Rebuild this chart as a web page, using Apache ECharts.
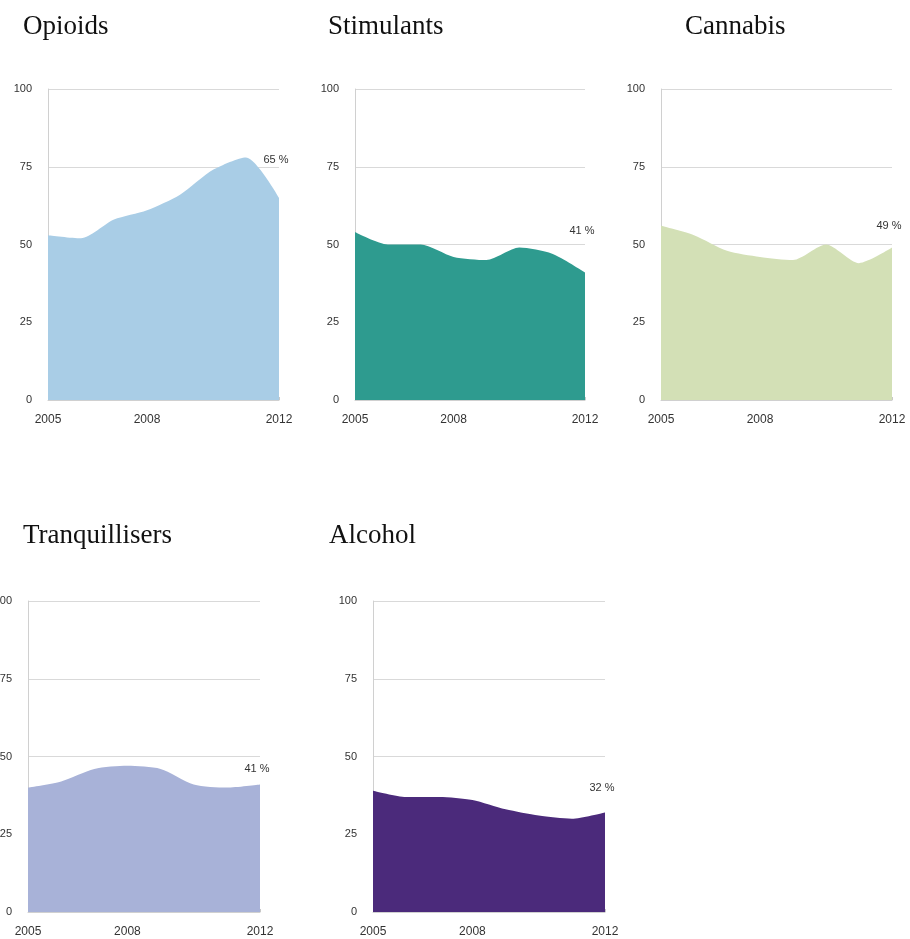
<!DOCTYPE html>
<html>
<head>
<meta charset="utf-8">
<script src="https://cdn.jsdelivr.net/npm/echarts@6/dist/echarts.min.js"></script>
<style>
html,body{margin:0;padding:0;background:#fff;}
#chart{width:910px;height:939px;}
</style>
</head>
<body>
<div id="chart"></div>
<script>
const years = ['2005','2006','2007','2008','2009','2010','2011','2012'];
const yTicks = [0, 25, 50, 75, 100];
const titles = ['Opioids','Stimulants','Cannabis','Tranquillisers','Alcohol'];
const opioids = [53, 52, 58, 61, 66, 74, 78, 65];
const stimulants = [54, 50, 50, 46, 45, 49, 47, 41];
const cannabis = [56, 53, 48, 46, 45, 50, 44, 49];
const tranquillisers = [40, 42, 46, 47, 46, 41, 40, 41];
const alcohol = [39, 37, 37, 36, 33, 31, 30, 32];
const seriesData = [opioids, stimulants, cannabis, tranquillisers, alcohol];

const colors = ['#a9cde6', '#2e9b8f', '#d3e0b6', '#a8b2d8', '#4b2a7b'];
const grids = [
  {left: 48, top: 89, width: 231, height: 311},
  {left: 355, top: 89, width: 230, height: 311},
  {left: 661, top: 89, width: 231, height: 311},
  {left: 28, top: 601, width: 232, height: 311},
  {left: 373, top: 601, width: 232, height: 311}
];
const titlePos = [
  {left: 23, top: 13},
  {left: 328, top: 13},
  {left: 685, top: 13},
  {left: 23, top: 522},
  {left: 329, top: 522}
];
const labelDist = [32, 36, 16, 10, 19];
const shownLabels = [0, 3, 7];

const chart = echarts.init(document.getElementById('chart'), null, {renderer: 'canvas'});
const option = {
  animation: false,
  backgroundColor: '#ffffff',
  title: titles.map((t, i) => ({
    text: t,
    left: titlePos[i].left,
    top: titlePos[i].top,
    padding: 0,
    textStyle: {fontFamily: 'Liberation Serif', fontSize: 27, fontWeight: 'normal', color: '#111'}
  })),
  grid: grids.map(g => Object.assign({containLabel: false, outerBoundsMode: 'none'}, g)),
  xAxis: grids.map((g, i) => ({
    type: 'category',
    gridIndex: i,
    data: years,
    boundaryGap: false,
    axisLine: {show: true, lineStyle: {color: '#d0d0d0', width: 1}},
    axisTick: {show: true, interval: 0, length: 3, inside: true, lineStyle: {color: '#c8c8c8'}},
    axisLabel: {
      interval: 0,
      formatter: (v, idx) => shownLabels.indexOf(idx) >= 0 ? v : '',
      fontFamily: 'Liberation Sans', fontSize: 12, color: '#333', margin: 14
    },
    splitLine: {show: false}
  })),
  yAxis: grids.map((g, i) => ({
    type: 'value',
    gridIndex: i,
    min: yTicks[0],
    max: yTicks[yTicks.length - 1],
    interval: yTicks[1] - yTicks[0],
    axisLine: {show: true, lineStyle: {color: '#d0d0d0', width: 1}},
    axisTick: {show: false},
    axisLabel: {fontFamily: 'Liberation Sans', fontSize: 11, color: '#333', margin: 16},
    splitLine: {show: true, lineStyle: {color: '#d9d9d9', width: 1}}
  })),
  series: seriesData.map((d, i) => ({
    type: 'line',
    xAxisIndex: i,
    yAxisIndex: i,
    data: d.map((v, j) => j === d.length - 1 ? {
      value: v,
      label: {
        show: true, position: 'top', distance: labelDist[i], offset: [-3, 0],
        formatter: p => p.value + ' %',
        fontFamily: 'Liberation Sans', fontSize: 11, color: '#333'
      }
    } : v),
    smooth: 0.25,
    symbol: 'circle',
    symbolSize: 0,
    showSymbol: true,
    lineStyle: {width: 0},
    areaStyle: {color: colors[i], opacity: 1},
    itemStyle: {color: colors[i]},
    z: 2
  }))
};
chart.setOption(option);
</script>
</body>
</html>
